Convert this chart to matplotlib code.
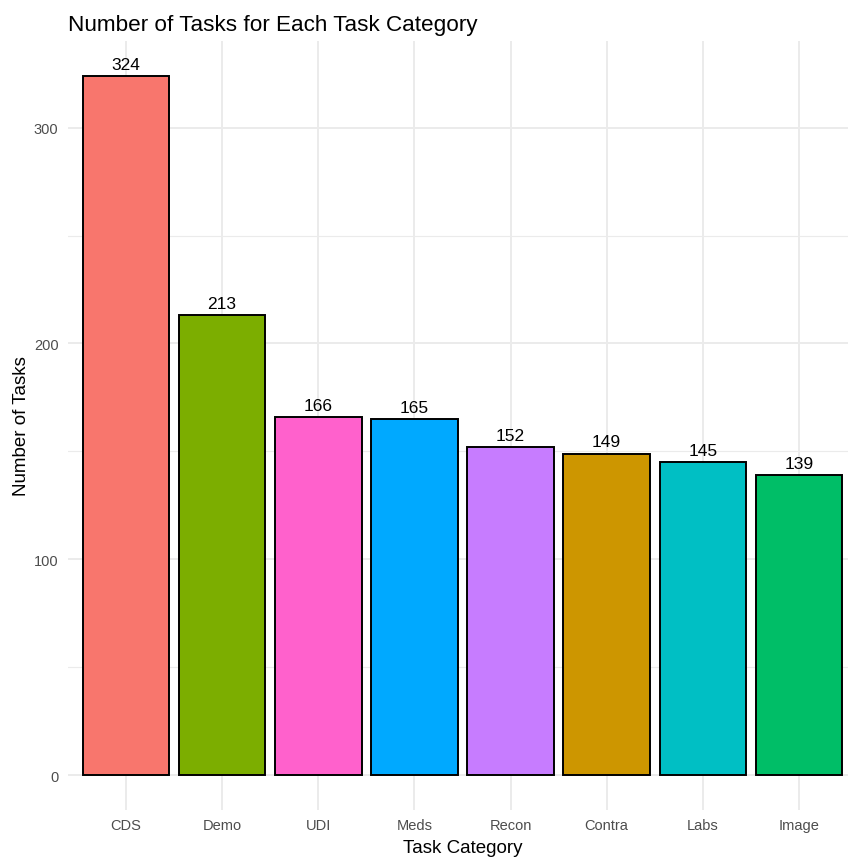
import matplotlib
matplotlib.use("Agg")
import matplotlib.pyplot as plt
from matplotlib.ticker import MultipleLocator

categories = ["CDS", "Demo", "UDI", "Meds", "Recon", "Contra", "Labs", "Image"]
counts = [324, 213, 166, 165, 152, 149, 145, 139]
colors = ["#F8766D", "#7CAE00", "#FF61CC", "#00A9FF",
          "#C77CFF", "#CD9600", "#00BFC4", "#00BE67"]

plt.rcParams["font.family"] = ["Liberation Sans", "DejaVu Sans"]

fig = plt.figure(figsize=(8.48, 8.62), dpi=100)
ax = fig.add_axes([0.0805, 0.0592, 0.9297, 0.8921])

x = list(range(1, len(categories) + 1))
ax.bar(x, counts, width=0.9, color=colors, edgecolor="black", linewidth=1.4, zorder=3)
for xi, v in zip(x, counts):
    ax.text(xi, v + 2, str(v), ha="center", va="bottom", fontsize=12.5, color="black", zorder=4)

ymax = max(counts) * 1.05
ax.set_ylim(-0.05 * max(counts), ymax)
ax.set_xlim(0.4, len(categories) + 0.6)

ax.set_xticks(x)
ax.set_xticklabels(categories)
ax.yaxis.set_major_locator(MultipleLocator(100))
ax.yaxis.set_minor_locator(MultipleLocator(50))

ax.grid(True, which="major", color="#EBEBEB", linewidth=1.4, zorder=0)
ax.grid(True, which="minor", axis="y", color="#EBEBEB", linewidth=0.8, zorder=0)
ax.set_axisbelow(True)
for s in ax.spines.values():
    s.set_visible(False)
ax.tick_params(which="both", length=0, labelsize=10.5, labelcolor="#4D4D4D")
ax.tick_params(axis="y", pad=7)
ax.tick_params(axis="x", pad=6)

ax.set_xlabel("Task Category", fontsize=13.5, labelpad=5)
ax.set_ylabel("Number of Tasks", fontsize=13.5, labelpad=3)
ax.set_title("Number of Tasks for Each Task Category", fontsize=16.2, loc="left", pad=8)

fig.savefig("out.png", dpi=100)
